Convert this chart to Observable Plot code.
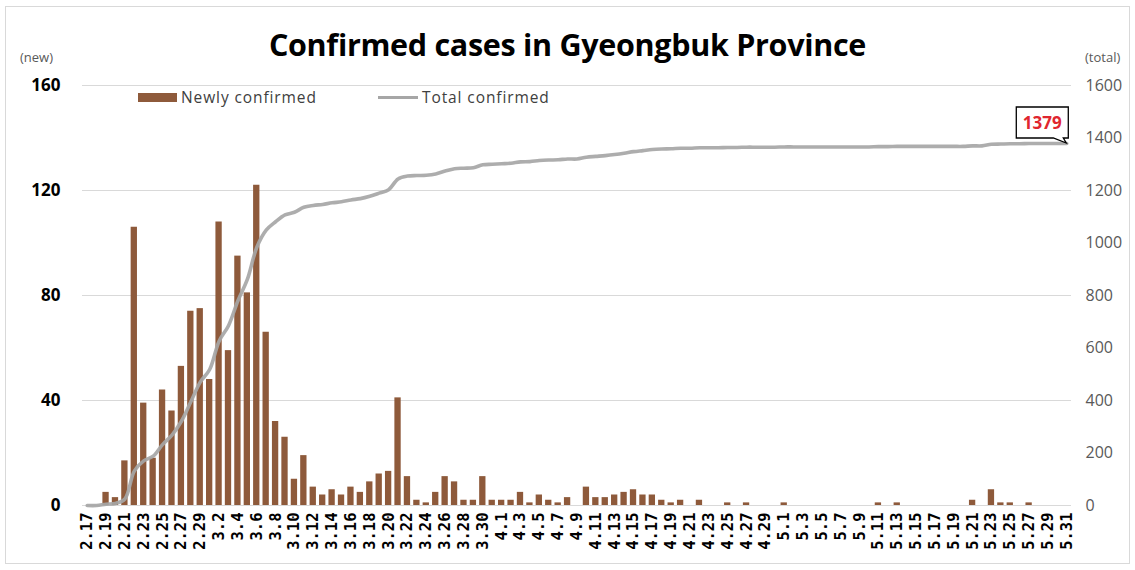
<!DOCTYPE html>
<html>
<head>
<meta charset="utf-8">
<script src="https://cdn.jsdelivr.net/npm/d3@7"></script>
<script src="https://cdn.jsdelivr.net/npm/@observablehq/plot@0.6"></script>
<style>
  html, body { margin: 0; padding: 0; background: #fff; }
  #wrap { position: relative; width: 1135px; height: 570px; overflow: hidden; font-family: "Open Sans", sans-serif; }
  #frame { position: absolute; left: 5px; top: 6px; width: 1125px; height: 558px; border: 1px solid #d9d9d9; box-sizing: border-box; }
  #title { position: absolute; left: 0; top: 24px; width: 1135px; text-align: center; font-weight: 700; font-size: 30.5px; line-height: 40px; color: #000; letter-spacing: -0.3px; }
  .unit { position: absolute; top: 48px; font-size: 13px; color: #595959; }
  #chart { position: absolute; left: 0; top: 70px; }
  .leg { position: absolute; font-size: 15.5px; color: #404040; letter-spacing: 0.9px; line-height: 20px; }
  .sw { position: absolute; }
</style>
</head>
<body>
<div id="wrap">
  <div id="frame"></div>
  <div id="title">Confirmed cases in Gyeongbuk Province</div>
  <div class="unit" style="left:20px">(new)</div>
  <div class="unit" style="left:1085px">(total)</div>
  <div id="chart"></div>
  <div class="sw" style="left:138px;top:93px;width:39px;height:9px;background:#8e5a3b"></div>
  <div class="leg" style="left:181px;top:87px">Newly confirmed</div>
  <div class="sw" style="left:378px;top:96px;width:40px;height:3px;background:#a6a6a6"></div>
  <div class="leg" style="left:422px;top:87px">Total confirmed</div>
</div>
<script>
const dates = [
  "2.17","2.18","2.19","2.20","2.21","2.22","2.23","2.24","2.25","2.26","2.27","2.28","2.29",
  "3.1","3.2","3.3","3.4","3.5","3.6","3.7","3.8","3.9","3.10",
  "3.11","3.12","3.13","3.14","3.15","3.16","3.17","3.18","3.19","3.20",
  "3.21","3.22","3.23","3.24","3.25","3.26","3.27","3.28","3.29","3.30","3.31",
  "4.1","4.2","4.3","4.4","4.5","4.6","4.7","4.8","4.9","4.10",
  "4.11","4.12","4.13","4.14","4.15","4.16","4.17","4.18","4.19","4.20",
  "4.21","4.22","4.23","4.24","4.25","4.26","4.27","4.28","4.29","4.30",
  "5.1","5.2","5.3","5.4","5.5","5.6","5.7","5.8","5.9","5.10",
  "5.11","5.12","5.13","5.14","5.15","5.16","5.17","5.18","5.19","5.20",
  "5.21","5.22","5.23","5.24","5.25","5.26","5.27","5.28","5.29","5.30","5.31"
];

const newCases = [
  0,0,5,3,17,106,39,18,44,36,53,74,75,
  48,108,59,95,81,122,66,32,26,10,
  19,7,4,6,4,7,5,9,12,13,
  41,11,2,1,5,11,9,2,2,11,2,
  2,2,5,1,4,2,1,3,0,7,
  3,3,4,5,6,4,4,2,1,2,
  0,2,0,0,1,0,1,0,0,0,
  1,0,0,0,0,0,0,0,0,0,
  1,0,1,0,0,0,0,0,0,0,
  2,0,6,1,1,0,1,0,0,0,0
];

const totalCases = [
  0,0,5,8,25,131,170,188,232,268,321,395,470,
  518,626,685,780,861,983,1049,1081,1107,1117,
  1136,1143,1147,1153,1157,1164,1169,1178,1190,1203,
  1244,1255,1257,1258,1263,1274,1283,1285,1287,1298,1300,
  1302,1304,1309,1310,1314,1316,1317,1320,1320,1327,
  1330,1333,1337,1342,1348,1352,1356,1358,1359,1361,
  1361,1363,1363,1363,1364,1364,1365,1365,1365,1365,
  1366,1366,1366,1366,1366,1366,1366,1366,1366,1366,
  1367,1367,1368,1368,1368,1368,1368,1368,1368,1368,
  1370,1370,1376,1377,1378,1378,1379,1379,1379,1379,1379
];

const xTickLabels = dates.filter((d, i) => i % 2 === 0);
const leftTicks = [0, 40, 80, 120, 160];
const rightTicks = [0, 200, 400, 600, 800, 1000, 1200, 1400, 1600];
const ratio = 10; // total axis = 10 x new axis

const data = dates.map((d, i) => ({date: d, n: newCases[i], t: totalCases[i]}));

const chart = Plot.plot({
  width: 1135,
  height: 500,
  marginLeft: 82,
  marginRight: 64,
  marginTop: 15,
  marginBottom: 65,
  style: {fontFamily: "Open Sans", background: "transparent", overflow: "visible"},
  x: {type: "band", domain: dates, paddingInner: 0.33, paddingOuter: 0.165},
  y: {domain: [0, 160]},
  marks: [
    Plot.ruleY(leftTicks, {stroke: "#d9d9d9", strokeWidth: 1.2}),
    Plot.barY(data, {x: "date", y: "n", fill: "#8e5a3b"}),
    Plot.lineY(data, {x: "date", y: d => d.t / ratio, stroke: "#a6a6a6", strokeWidth: 3.6, strokeOpacity: 0.92, curve: "catmull-rom"}),
    Plot.axisX({ticks: xTickLabels, tickRotate: -90, tickSize: 0, tickPadding: 7, label: null,
      fontSize: 15.5, fontWeight: "bold", fontFamily: "DejaVu Sans Mono", fill: "#000"}),
    Plot.axisY({anchor: "left", ticks: leftTicks, tickSize: 0, tickPadding: 22, label: null,
      fontSize: 17, fontWeight: "bold", fill: "#000"}),
    Plot.axisY({anchor: "right", ticks: rightTicks.map(v => v / ratio), tickFormat: v => String(v * ratio),
      tickSize: 0, tickPadding: 14, label: null, fontSize: 16, fill: "#595959"})
  ]
});
document.getElementById("chart").appendChild(chart);

// Callout for the last total value, placed through the plot's own scales
const xs = chart.scale("x"), ys = chart.scale("y");
const last = data[data.length - 1];
const px = xs.apply(last.date) + xs.bandwidth / 2;
const py = ys.apply(last.t / ratio);
const svg = d3.select(chart);
const L = px - 50, R = px + 2, T = py - 36, B = py - 5;
svg.append("path")
  .attr("d", `M${L},${T}H${R}V${B}H${px - 3}L${px},${py}L${px - 13},${B}H${L}Z`)
  .attr("fill", "#fff").attr("stroke", "#000").attr("stroke-width", 1.3);
svg.append("text")
  .attr("x", (L + R) / 2).attr("y", (T + B) / 2 + 6)
  .attr("text-anchor", "middle")
  .attr("font-family", "Open Sans").attr("font-weight", "bold").attr("font-size", 17)
  .attr("fill", "#e0262f")
  .text(String(last.t));
</script>
</body>
</html>
